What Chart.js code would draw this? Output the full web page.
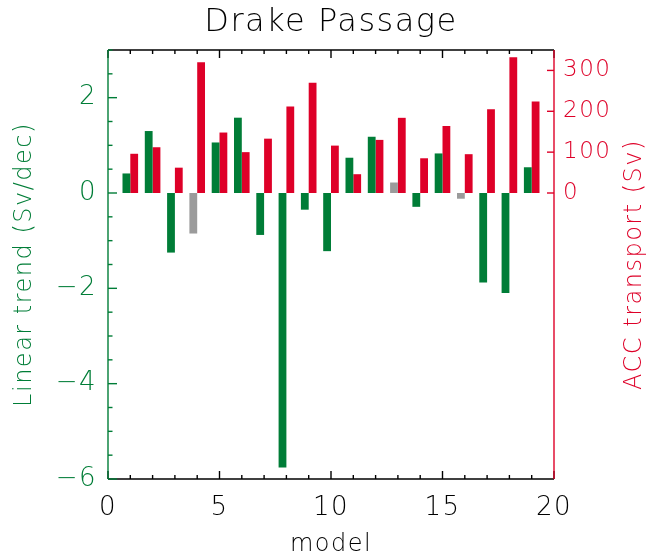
<!DOCTYPE html>
<html>
<head>
<meta charset="utf-8">
<script src="https://cdn.jsdelivr.net/npm/chart.js@4/dist/chart.umd.min.js"></script>
<style>
  html, body { margin: 0; padding: 0; background: #fff; }
  #wrap { width: 652px; height: 559px; }
</style>
</head>
<body>
<div id="wrap"><canvas id="drake" width="652" height="559"></canvas></div>
<script>
// model numbers and the two series
var models = [1, 2, 3, 4, 5, 6, 7, 8, 9, 10, 11, 12, 13, 14, 15, 16, 17, 18, 19]
var trend = [0.41, 1.30, -1.25, -0.85, 1.06, 1.58, -0.88, -5.76, -0.35, -1.22, 0.74, 1.18, 0.22, -0.29, 0.83, -0.12, -1.88, -2.10, 0.54]
var transport = [96, 112, 62, 320, 148, 100, 133, 212, 270, 116, 46, 130, 184, 85, 164, 95, 205, 332, 224]
var greyModels = [4, 13, 16]   // trends drawn in grey
var xTicks = [0, 5, 10, 15, 20]
var trendTicks = [-6, -4, -2, 0, 2]
var transportTicks = [0, 100, 200, 300]

var GREEN = 'rgb(0,125,55)'
var RED = 'rgb(222,0,40)'
var GREY = 'rgb(155,155,155)'
var FONT = "'DejaVu Sans', sans-serif"

function fixTicks(list) {
    return function(scale) {
        scale.ticks = list.map(function(v) { return { value: v } })
    }
}

function minusLabel(v) {
    return v < 0 ? '\u2212' + Math.abs(v) : '' + v
}

// frame, inward tick marks and the right-hand title
var frameTicks = {
    id: 'frameTicks',
    beforeDraw: function(chart) {
        // the original lettering is wide, spread it a little
        chart.ctx.letterSpacing = '1.5px'
    },
    afterDraw: function(chart) {
        var ctx = chart.ctx
        var a = chart.chartArea
        var x = chart.scales.x, yl = chart.scales.y, yr = chart.scales.y2
        function seg(x1, y1, x2, y2) {
            ctx.beginPath(); ctx.moveTo(x1, y1); ctx.lineTo(x2, y2); ctx.stroke()
        }
        ctx.save()
        ctx.lineWidth = 1.4
        ctx.strokeStyle = '#000'
        seg(a.left, a.bottom, a.right, a.bottom)
        seg(a.left, a.top, a.right, a.top)
        for (var v = 0; v <= 20; v++) {
            var px = x.getPixelForValue(v)
            var len = v % 5 === 0 ? 8 : 4
            seg(px, a.bottom, px, a.bottom - len)
            seg(px, a.top, px, a.top + len)
        }
        ctx.strokeStyle = GREEN
        seg(a.left, a.top, a.left, a.bottom)
        for (var t = -6; t <= 3; t += 0.5) {
            var py = yl.getPixelForValue(t)
            seg(a.left, py, a.left + (t % 2 === 0 ? 9 : 4.5), py)
        }
        ctx.strokeStyle = RED
        seg(a.right, a.top, a.right, a.bottom)
        transportTicks.forEach(function(t) {
            var py = yr.getPixelForValue(t)
            seg(a.right, py, a.right - 7, py)
        })
        ctx.fillStyle = RED
        ctx.font = '200 24px ' + FONT
        ctx.textAlign = 'center'
        ctx.textBaseline = 'middle'
        ctx.translate(635, (a.top + a.bottom) / 2)
        ctx.rotate(-Math.PI / 2)
        ctx.fillText('ACC transport (Sv)', 0, 0)
        ctx.restore()
    }
}

var ctx = document.getElementById('drake').getContext('2d')
var myChart = new Chart(ctx, {
    type: 'bar',
    data: {
        datasets: [{
            label: 'Linear trend',
            data: models.map(function(m, i) { return { x: m, y: trend[i] } }),
            backgroundColor: models.map(function(m) { return greyModels.indexOf(m) >= 0 ? GREY : GREEN }),
            yAxisID: 'y',
            borderWidth: 0
        }, {
            label: 'ACC transport',
            data: models.map(function(m, i) { return { x: m, y: transport[i] } }),
            backgroundColor: RED,
            yAxisID: 'y2',
            borderWidth: 0
        }]
    },
    options: {
        responsive: false,
        animation: false,
        devicePixelRatio: 1,
        barPercentage: 1,
        categoryPercentage: 0.7,
        layout: { padding: 0 },
        plugins: {
            legend: { display: false },
            tooltip: { enabled: false },
            title: {
                display: true,
                text: 'Drake Passage',
                fullSize: false,
                color: '#000',
                font: { family: FONT, size: 32, weight: '200' },
                padding: { top: 3, bottom: 8.6 }
            }
        },
        scales: {
            x: {
                type: 'linear',
                min: 0, max: 20,
                offset: false,
                afterBuildTicks: fixTicks(xTicks),
                afterFit: function(s) { s.height = 80 },
                grid: { display: false, drawTicks: false },
                border: { display: false },
                ticks: { color: '#000', padding: 14, maxRotation: 0, font: { family: FONT, size: 26, weight: '200' } },
                title: { display: true, text: 'model', color: '#000', padding: { top: 0, bottom: 0 }, font: { family: FONT, size: 24, weight: '200' } }
            },
            y: {
                position: 'left',
                min: -6, max: 3,
                afterBuildTicks: fixTicks(trendTicks),
                afterFit: function(s) { s.width = 108 },
                grid: { display: false, drawTicks: false },
                border: { display: false },
                ticks: { color: GREEN, padding: 11, callback: minusLabel, font: { family: FONT, size: 26, weight: '200' } },
                title: { display: true, text: 'Linear trend (Sv/dec)', color: GREEN, padding: { top: 10, bottom: 0 }, font: { family: FONT, size: 24, weight: '200' } }
            },
            y2: {
                position: 'right',
                min: -700, max: 350,
                afterBuildTicks: fixTicks(transportTicks),
                afterFit: function(s) { s.width = 98 },
                grid: { display: false, drawTicks: false },
                border: { display: false },
                ticks: { color: RED, padding: 9, font: { family: FONT, size: 23, weight: '200' } }
            }
        }
    },
    plugins: [frameTicks]
})
</script>
</body>
</html>
